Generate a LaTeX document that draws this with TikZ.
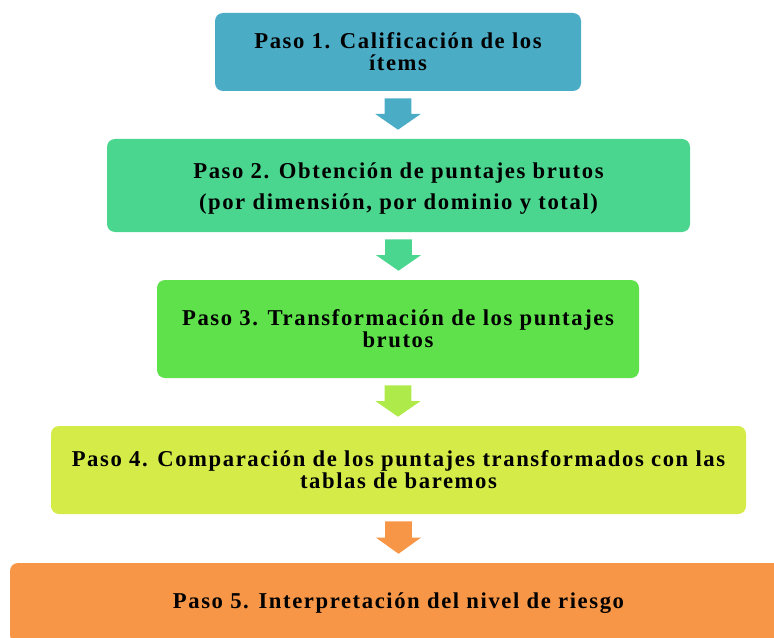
\documentclass[tikz,border=0pt]{standalone}
\usepackage{fontspec}
\setmainfont{Liberation Serif}
\usetikzlibrary{calc}
\definecolor{cA}{HTML}{4BACC6}
\definecolor{cB}{HTML}{4BD690}
\definecolor{cC}{HTML}{5EE14B}
\definecolor{cCa}{HTML}{AEEB4A}
\definecolor{cD}{HTML}{D4EB48}
\definecolor{cE}{HTML}{F79646}
\tikzset{
  stepbox/.style={rounded corners=6pt, inner sep=0pt, align=center,
    font=\fontsize{17}{16.5}\selectfont\bfseries\addfontfeatures{LetterSpace=7}},
}
\newcommand\downarrowshape[3]{%
  \fill[#3] let \p1=(#1.south), \p2=(#2.north),
    \n1={\y1-5.25pt}, \n2={\y2+6.75pt}, \n3={(\n1+\n2)/2} in
    (\x1-10pt,\n1) -- (\x1+10pt,\n1) -- (\x1+10pt,\n3) -- (\x1+17pt,\n3)
    -- (\x1,\n2) -- (\x1-17pt,\n3) -- (\x1-10pt,\n3) -- cycle;}
\begin{document}
\begin{tikzpicture}[x=0.75pt,y=-0.75pt]
\useasboundingbox (0,0) rectangle (774,638);
\clip (0,0) rectangle (774,638);
\node[stepbox, fill=cA, minimum width=274.5pt, minimum height=58.5pt] (b1) at (398,52)
  {Paso 1. Calificación de los\\ítems};
\node[stepbox, fill=cB, minimum width=437.25pt, minimum height=69.75pt] (b2) at (398.5,185.5)
  {\rule{0pt}{16.5pt}Paso 2. Obtención de puntajes brutos\\[7pt](por dimensión, por dominio y total)};
\node[stepbox, fill=cC, minimum width=361.5pt, minimum height=73.5pt] (b3) at (398,329)
  {Paso 3. Transformación de los puntajes\\brutos};
\node[stepbox, fill=cD, minimum width=521.25pt, minimum height=66pt] (b4) at (398.5,470)
  {Paso 4. Comparación de los puntajes transformados con las\\tablas de baremos};
\node[stepbox, fill=cE, minimum width=582.75pt, minimum height=60pt] (b5) at (398.5,603)
  {Paso 5. Interpretación del nivel de riesgo};
\downarrowshape{b1}{b2}{cA}
\downarrowshape{b2}{b3}{cB}
\downarrowshape{b3}{b4}{cCa}
\downarrowshape{b4}{b5}{cE}
\end{tikzpicture}
\end{document}
